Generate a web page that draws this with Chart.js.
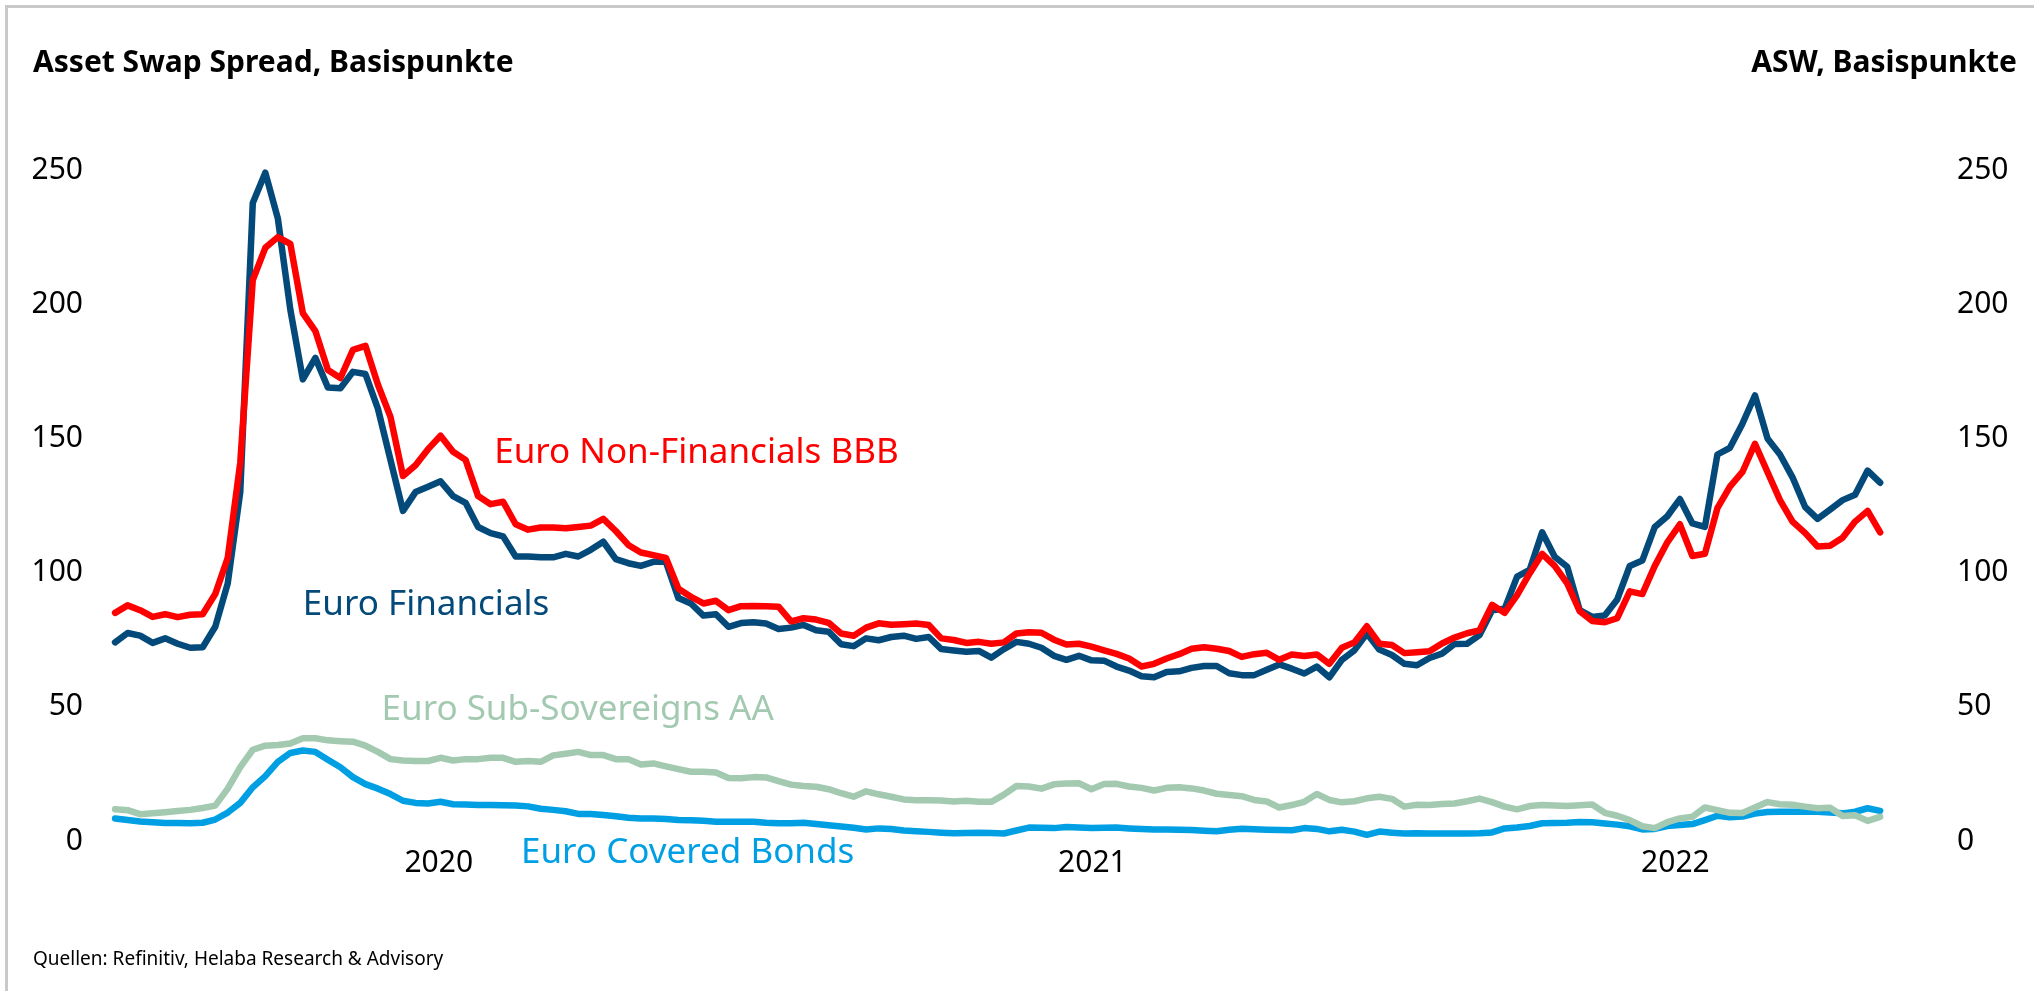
<!DOCTYPE html>
<html>
<head>
<meta charset="utf-8">
<title>Asset Swap Spread</title>
<script src="https://cdn.jsdelivr.net/npm/chart.js@4.4.1/dist/chart.umd.min.js"></script>
<style>
  html, body { margin: 0; padding: 0; background: #fff; }
  #wrap { position: relative; width: 2034px; height: 991px; overflow: hidden; }
  #frame { position: absolute; left: 5px; top: 5px; right: -10px; bottom: -10px;
           border-top: 3px solid #c9c9c9; border-left: 3px solid #c9c9c9; }
  #c { position: absolute; left: 0; top: 0; }
</style>
</head>
<body>
<div id="wrap">
  <div id="frame"></div>
  <canvas id="c" width="2034" height="991"></canvas>
</div>
<script>
// weekly readings (Fridays), Basispunkte
const dates = [
  '2020-01-03','2020-01-10','2020-01-17','2020-01-24','2020-01-31','2020-02-07','2020-02-14','2020-02-21','2020-02-28','2020-03-06',
  '2020-03-13','2020-03-20','2020-03-27','2020-04-03','2020-04-10','2020-04-17','2020-04-24','2020-05-01','2020-05-08','2020-05-15',
  '2020-05-22','2020-05-29','2020-06-05','2020-06-12','2020-06-19','2020-06-26','2020-07-03','2020-07-10','2020-07-17','2020-07-24',
  '2020-07-31','2020-08-07','2020-08-14','2020-08-21','2020-08-28','2020-09-04','2020-09-11','2020-09-18','2020-09-25','2020-10-02',
  '2020-10-09','2020-10-16','2020-10-23','2020-10-30','2020-11-06','2020-11-13','2020-11-20','2020-11-27','2020-12-04','2020-12-11',
  '2020-12-18','2020-12-25','2021-01-01','2021-01-08','2021-01-15','2021-01-22','2021-01-29','2021-02-05','2021-02-12','2021-02-19',
  '2021-02-26','2021-03-05','2021-03-12','2021-03-19','2021-03-26','2021-04-02','2021-04-09','2021-04-16','2021-04-23','2021-04-30',
  '2021-05-07','2021-05-14','2021-05-21','2021-05-28','2021-06-04','2021-06-11','2021-06-18','2021-06-25','2021-07-02','2021-07-09',
  '2021-07-16','2021-07-23','2021-07-30','2021-08-06','2021-08-13','2021-08-20','2021-08-27','2021-09-03','2021-09-10','2021-09-17',
  '2021-09-24','2021-10-01','2021-10-08','2021-10-15','2021-10-22','2021-10-29','2021-11-05','2021-11-12','2021-11-19','2021-11-26',
  '2021-12-03','2021-12-10','2021-12-17','2021-12-24','2021-12-31','2022-01-07','2022-01-14','2022-01-21','2022-01-28','2022-02-04',
  '2022-02-11','2022-02-18','2022-02-25','2022-03-04','2022-03-11','2022-03-18','2022-03-25','2022-04-01','2022-04-08','2022-04-15',
  '2022-04-22','2022-04-29','2022-05-06','2022-05-13','2022-05-20','2022-05-27','2022-06-03','2022-06-10','2022-06-17','2022-06-24',
  '2022-07-01','2022-07-08','2022-07-15','2022-07-22','2022-07-29','2022-08-05','2022-08-12','2022-08-19','2022-08-26','2022-09-02',
  '2022-09-09','2022-09-16'
];

const nonFinBBB = [
  85, 87.8, 86, 83.5, 84.5, 83.4, 84.3, 84.5, 92, 105.5,
  141, 209, 221, 225, 222.5, 196.7, 190, 175.5, 172.5, 183,
  184.5, 170, 158, 136, 140, 146, 151, 145, 142, 128.5,
  125.5, 126.4, 118, 116, 116.8, 116.8, 116.5, 117, 117.5, 120,
  115.5, 110.3, 107.5, 106.5, 105.5, 94, 91, 88.5, 89.5, 86,
  87.5, 87.6, 87.5, 87.3, 81.8, 83, 82.5, 81.3, 77.3, 76.5,
  79.5, 81.1, 80.6, 80.8, 81, 80.5, 75.5, 74.9, 73.8, 74.2,
  73.5, 74, 77.3, 77.8, 77.6, 75, 73.2, 73.5, 72.4, 71,
  69.7, 68, 65, 66, 68, 69.6, 71.6, 72.2, 71.6, 70.8,
  68.6, 69.6, 70.1, 67.5, 69.5, 68.9, 69.5, 66, 72, 74,
  80, 73.5, 73, 70, 70.3, 70.7, 73.6, 75.8, 77.4, 78.5,
  88, 85, 91.6, 99.7, 107, 102.5, 96, 85.6, 82, 81.5,
  83, 93, 92, 102.5, 111.3, 118, 106.2, 107, 124, 132,
  137.5, 148, 137.5, 127, 119, 114.8, 109.7, 110, 113, 119,
  123, 115
];

const financials = [
  74, 77.5, 76.5, 73.8, 75.5, 73.5, 72, 72.2, 79.8, 96,
  130, 237.7, 249, 232, 198, 172, 180, 169, 168.7, 174.8,
  174, 161, 142, 123, 130, 132, 134, 128.5, 126, 117,
  114.7, 113.5, 106, 106, 105.7, 105.7, 107, 106, 108.5, 111.5,
  105, 103.5, 102.5, 104, 104, 90.5, 88.5, 84, 84.5, 79.8,
  81.2, 81.5, 81, 79, 79.5, 80.5, 78.5, 78, 73.3, 72.6,
  75.5, 74.8, 76, 76.5, 75.3, 76, 71.5, 71, 70.5, 70.8,
  68.3, 71.5, 74.2, 73.5, 72, 69, 67.5, 69, 67.3, 67.2,
  65, 63.5, 61.4, 61, 63, 63.2, 64.5, 65.2, 65.2, 62.5,
  61.8, 61.8, 63.8, 65.8, 64.2, 62.4, 65, 61, 67.5, 71,
  77.3, 71.3, 69.3, 66, 65.5, 68.2, 69.8, 73.4, 73.5, 76.7,
  86, 86.5, 98.5, 101, 115, 105.9, 102.2, 86, 83.5, 84,
  90, 102.5, 104.5, 117, 121, 127.4, 118.3, 117, 144, 146.5,
  155.5, 166, 150, 144, 135.5, 124.5, 120, 123.5, 127, 129,
  138, 133.5
];

const subSovAA = [
  11.8, 11.5, 10, 10.3, 10.7, 11.2, 11.6, 12.3, 13.2, 19.5,
  27.5, 34, 35.5, 35.8, 36.3, 38.3, 38.3, 37.5, 37.2, 37,
  35.5, 33.2, 30.5, 30, 29.8, 29.8, 31, 30, 30.5, 30.5,
  31, 31, 29.5, 29.8, 29.5, 31.9, 32.5, 33.2, 32, 32,
  30.5, 30.5, 28.5, 28.9, 27.8, 26.8, 25.8, 25.8, 25.5, 23.5,
  23.4, 23.8, 23.7, 22.3, 21, 20.5, 20.2, 19.3, 17.8, 16.5,
  18.5, 17.4, 16.5, 15.5, 15.2, 15.2, 15.1, 14.7, 15, 14.6,
  14.6, 17.3, 20.5, 20.3, 19.5, 21.1, 21.4, 21.5, 19.3, 21.2,
  21.3, 20.3, 19.8, 18.8, 19.8, 20, 19.6, 18.8, 17.6, 17.1,
  16.7, 15.3, 14.7, 12.5, 13.4, 14.6, 17.5, 15.3, 14.4, 14.8,
  15.9, 16.5, 15.7, 12.8, 13.5, 13.4, 13.8, 14, 14.8, 15.8,
  14.5, 12.8, 11.8, 13, 13.4, 13.2, 13, 13.3, 13.6, 10.5,
  9.4, 7.8, 5.5, 4.8, 7, 8.4, 9, 12.5, 11.5, 10.5,
  10.4, 12.5, 14.5, 13.7, 13.5, 12.8, 12.2, 12.4, 9.3, 9.6,
  7.5, 9
];

const coveredBonds = [
  8.4, 7.8, 7.3, 7, 6.7, 6.7, 6.6, 6.8, 8, 10.6,
  14.2, 20, 24.2, 29.5, 32.8, 33.7, 33.2, 30.3, 27.5, 23.8,
  21.2, 19.5, 17.5, 15, 14.2, 14, 14.6, 13.7, 13.6, 13.4,
  13.4, 13.3, 13.2, 12.9, 12, 11.6, 11.1, 10.1, 10.1, 9.7,
  9.2, 8.7, 8.4, 8.4, 8.2, 7.8, 7.7, 7.5, 7.2, 7.2,
  7.2, 7.2, 6.8, 6.6, 6.6, 6.8, 6.3, 5.9, 5.4, 4.9,
  4.3, 4.7, 4.5, 3.9, 3.6, 3.4, 3.1, 2.9, 3, 3.1,
  3, 2.8, 3.9, 5, 4.9, 4.8, 5.2, 5, 4.8, 4.9,
  5, 4.7, 4.5, 4.3, 4.3, 4.2, 4.1, 3.8, 3.6, 4.2,
  4.6, 4.4, 4.2, 4.1, 4, 4.8, 4.5, 3.6, 4.2, 3.5,
  2.3, 3.5, 3.1, 2.8, 2.9, 2.8, 2.8, 2.8, 2.8, 2.9,
  3.2, 4.7, 5, 5.6, 6.6, 6.7, 6.8, 7.1, 7, 6.5,
  6.1, 5.5, 4.3, 4.5, 5.6, 6, 6.3, 7.8, 9.4, 8.8,
  9.1, 10.2, 10.8, 10.9, 10.9, 10.9, 10.9, 10.6, 10.3, 10.9,
  12.2, 11.2
];

const years = [2020, 2021, 2022];
const axisStart = Date.UTC(2020, 0, 1);
const axisEnd = Date.UTC(2022, 9, 15);

const RED = '#ff0000';
const DARKBLUE = '#03497a';
const GREEN = '#a3c9b1';
const LIGHTBLUE = '#009fe3';

// Beschriftungen im Chart (Datum, Wert der Grundlinie)
const seriesLabels = [
  { text: 'Euro Non-Financials BBB', date: '2020-08-02', value: 140.8, color: RED },
  { text: 'Euro Financials', date: '2020-04-17', value: 84.2, color: DARKBLUE },
  { text: 'Euro Sub-Sovereigns AA', date: '2020-05-31', value: 45.1, color: GREEN },
  { text: 'Euro Covered Bonds', date: '2020-08-17', value: -8.2, color: LIGHTBLUE }
];

function toPoints(values) {
  return values.map((v, i) => ({ x: Date.parse(dates[i]), y: v }));
}

// year label sits in the middle of the visible part of its year
function yearCenter(y) {
  const a = Math.max(axisStart, Date.UTC(y, 0, 1));
  const b = Math.min(axisEnd, Date.UTC(y + 1, 0, 1));
  return (a + b) / 2;
}

const textPlugin = {
  id: 'texts',
  afterDraw(chart) {
    const ctx = chart.ctx;
    const xs = chart.scales.x, ys = chart.scales.y;
    ctx.save();
    ctx.textBaseline = 'alphabetic';
    ctx.fillStyle = '#000';
    ctx.font = 'bold 30px "Noto Sans"';
    ctx.textAlign = 'left';
    ctx.fillText('Asset Swap Spread, Basispunkte', 33, 72);
    ctx.textAlign = 'right';
    ctx.fillText('ASW, Basispunkte', 2017, 72);
    ctx.textAlign = 'left';
    ctx.font = '19px "Noto Sans"';
    ctx.fillText('Quellen: Refinitiv, Helaba Research & Advisory', 33, 965);
    ctx.font = '35px "Noto Sans"';
    seriesLabels.forEach(l => {
      ctx.fillStyle = l.color;
      ctx.fillText(l.text, xs.getPixelForValue(Date.parse(l.date)), ys.getPixelForValue(l.value));
    });
    ctx.restore();
  }
};

const lineStyle = {
  pointRadius: 0,
  borderWidth: 6.5,
  borderJoinStyle: 'round',
  borderCapStyle: 'round',
  tension: 0,
  fill: false,
  clip: false
};

const tickFont = { family: 'Noto Sans', size: 30 };

new Chart(document.getElementById('c'), {
  type: 'line',
  data: {
    datasets: [
      Object.assign({ label: 'Euro Non-Financials BBB', data: toPoints(nonFinBBB), borderColor: RED }, lineStyle),
      Object.assign({ label: 'Euro Financials', data: toPoints(financials), borderColor: DARKBLUE }, lineStyle),
      Object.assign({ label: 'Euro Sub-Sovereigns AA', data: toPoints(subSovAA), borderColor: GREEN }, lineStyle),
      Object.assign({ label: 'Euro Covered Bonds', data: toPoints(coveredBonds), borderColor: LIGHTBLUE }, lineStyle)
    ]
  },
  options: {
    responsive: false,
    animation: false,
    devicePixelRatio: 1,
    layout: { padding: { top: 170, left: 0, right: 0, bottom: 0 } },
    plugins: { legend: { display: false }, tooltip: { enabled: false }, title: { display: false } },
    scales: {
      x: {
        type: 'linear',
        min: axisStart,
        max: axisEnd,
        grid: { display: false },
        border: { display: false },
        afterBuildTicks: axis => { axis.ticks = years.map(y => ({ value: yearCenter(y) })); },
        afterFit: s => { s.height = 150; },
        ticks: {
          autoSkip: false,
          maxRotation: 0,
          padding: -4,
          color: '#000',
          font: tickFont,
          callback: (v, i) => String(years[i])
        }
      },
      y: {
        position: 'left',
        min: 0,
        max: 250,
        grid: { display: false },
        border: { display: false },
        afterFit: s => { s.width = 111.5; },
        ticks: { stepSize: 50, padding: 20.5, color: '#000', font: tickFont }
      },
      y2: {
        position: 'right',
        display: true,
        min: 0,
        max: 250,
        grid: { display: false },
        border: { display: false },
        afterFit: s => { s.width = 102; },
        ticks: { stepSize: 50, padding: 17, color: '#000', font: tickFont }
      }
    }
  },
  plugins: [textPlugin]
});
</script>
</body>
</html>
